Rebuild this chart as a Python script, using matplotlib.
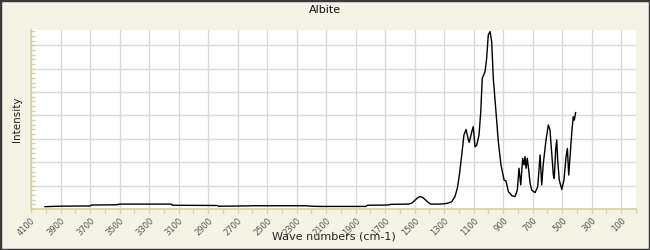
import matplotlib
matplotlib.use("Agg")
import matplotlib.pyplot as plt
from matplotlib.ticker import MultipleLocator
from matplotlib.patches import Rectangle

title = "Albite"
x_label = "Wave numbers (cm-1)"
y_label = "Intensity"

wavenumber = [4005, 3900, 3700, 3690, 3520, 3500, 3150, 3140, 2840, 2830, 2650, 2600,
              2240, 2200, 2150, 1830, 1820, 1680, 1660, 1540, 1520, 1500, 1480, 1463,
              1445, 1425, 1405, 1390, 1330, 1290, 1270, 1249, 1227, 1211, 1197, 1181,
              1166, 1152, 1136, 1130, 1113, 1103, 1091, 1080, 1064, 1052, 1042, 1023,
              1012, 1001, 989, 978, 967, 949, 933, 915, 894, 881, 865, 854, 842, 820,
              804, 793, 781, 768, 759, 752, 745, 737, 727, 718, 707, 684, 666, 650,
              639, 628, 610, 594, 583, 571, 560, 554, 544, 537, 531, 520, 503, 488,
              474, 465, 456, 447, 434, 425, 418, 409]
intensity = [0.10, 0.12, 0.13, 0.17, 0.18, 0.21, 0.21, 0.16, 0.15, 0.12, 0.13, 0.14,
             0.14, 0.12, 0.11, 0.11, 0.16, 0.17, 0.20, 0.21, 0.25, 0.36, 0.48, 0.53,
             0.49, 0.38, 0.26, 0.21, 0.21, 0.23, 0.26, 0.31, 0.53, 0.88, 1.45, 2.31,
             3.16, 3.40, 2.95, 2.85, 3.30, 3.52, 2.66, 2.72, 3.16, 4.16, 5.58, 5.87,
             6.44, 7.44, 7.58, 7.15, 5.58, 4.16, 2.88, 1.88, 1.24, 1.20, 0.74, 0.67,
             0.57, 0.53, 0.81, 1.74, 1.03, 2.17, 1.88, 2.24, 1.74, 2.17, 1.67, 1.10,
             0.81, 0.70, 0.95, 2.31, 1.03, 1.95, 2.95, 3.59, 3.38, 2.38, 1.45, 1.31,
             2.59, 2.95, 2.09, 1.24, 0.84, 1.24, 2.24, 2.59, 1.45, 2.24, 3.38, 3.94,
             3.80, 4.12]

x_ticks = list(range(4100, 0, -200))

bg = "#f5f3e6"
khaki = "#d8d29c"

fig = plt.figure(figsize=(6.5, 2.5), dpi=100, facecolor=bg)
ax = fig.add_axes([31/650, 41/250, 605/650, 179/250])
ax.set_facecolor("white")
ax.plot(wavenumber, intensity, color="black", lw=1.0)
ax.set_xlim(4100, 0)
ax.set_ylim(0, 7.65)

ax.set_xticks(x_ticks)
ax.set_xticklabels([str(t) for t in x_ticks], rotation=45, ha="right",
                   rotation_mode="anchor", fontsize=6, color="#555555")
ax.xaxis.set_minor_locator(MultipleLocator(100))
ax.yaxis.set_major_locator(MultipleLocator(1))
ax.yaxis.set_minor_locator(MultipleLocator(0.2))
ax.set_yticklabels([])
ax.tick_params(axis="x", which="both", direction="out", length=3, color=khaki, width=1, pad=2)
ax.tick_params(axis="y", which="both", direction="in", length=3, color=khaki, width=1)
ax.grid(True, which="major", color="#d9d9d9", lw=1)
ax.set_axisbelow(True)
for s in ["top", "right"]:
    ax.spines[s].set_visible(False)
for s in ["left", "bottom"]:
    ax.spines[s].set_color(khaki)
    ax.spines[s].set_linewidth(1.2)

ax.set_xlabel(x_label, fontsize=8, color="#222222", labelpad=-4)
ax.set_ylabel(y_label, fontsize=7.5, color="#222222", labelpad=3)
fig.text(0.5, 1 - 10/250, title, ha="center", va="center", fontsize=8, color="#111111")

fig.patches.append(Rectangle((0, 0), 1, 1, transform=fig.transFigure, fill=False,
                             edgecolor="#3a3a3a", lw=2.5))
fig.savefig("out.png", dpi=100, facecolor=bg)
